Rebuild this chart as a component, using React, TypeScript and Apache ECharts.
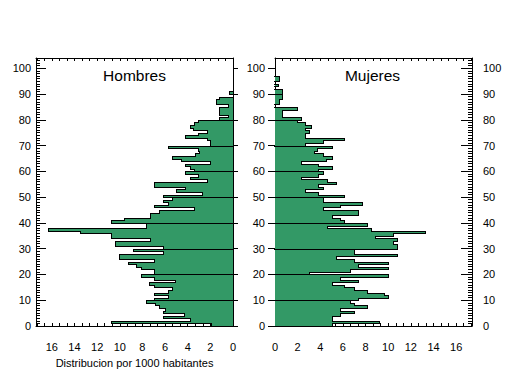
import React, { useEffect, useRef } from "react";
import * as echarts from "echarts";

// Ages 0..100 (one bar per single year of age)
const ages: number[] = Array.from({ length: 101 }, (_, i) => i);

// Distribution per 1000 inhabitants, index = age
const hombres: number[] = [
  1.9, 10.8, 3.8, 6.2, 4.3, 6.2, 6.0, 6.55, 6.9, 7.7,
  7.0, 5.75, 7.0, 5.75, 5.4, 7.0, 7.4, 5.1, 7.0, 8.1,
  7.0, 7.0, 8.1, 8.55, 9.3, 7.0, 10.1, 10.1, 6.2, 8.85,
  6.2, 10.4, 10.4, 7.3, 10.8, 10.8, 13.5, 16.3, 7.7, 7.7,
  10.8, 9.6, 7.3, 7.3, 6.55, 3.45, 7.0, 5.75, 6.2, 5.4,
  6.2, 2.7, 5.0, 4.2, 7.0, 7.0, 2.3, 3.8, 3.1, 4.2,
  3.45, 3.8, 4.2, 2.0, 4.6, 5.4, 3.4, 3.0, 3.1, 5.75,
  2.0, 2.0, 2.3, 4.2, 3.1, 2.3, 3.5, 3.8, 3.45, 3.1,
  1.2, 0.45, 1.2, 1.2, 1.2, 0.45, 1.5, 1.5, 1.2, 0,
  0.35, 0, 0, 0, 0, 0, 0, 0, 0, 0,
  0,
];

const mujeres: number[] = [
  5.1, 9.3, 5.1, 5.1, 5.8, 7.05, 5.8, 8.2, 7.05, 6.7,
  7.4, 10.1, 9.7, 8.2, 7.05, 6.2, 5.1, 7.4, 5.8, 10.1,
  3.1, 6.7, 10.1, 7.4, 10.1, 7.05, 5.5, 10.9, 7.05, 7.05,
  10.9, 10.9, 10.5, 10.9, 8.9, 10.5, 13.3, 8.6, 4.7, 8.2,
  6.2, 5.8, 5.1, 7.4, 7.4, 4.3, 5.8, 7.8, 4.3, 4.3,
  6.2, 3.85, 2.7, 4.3, 3.85, 5.5, 4.7, 2.4, 3.85, 4.3,
  3.85, 5.1, 3.85, 2.4, 4.6, 5.1, 4.3, 3.5, 3.8, 5.1,
  2.7, 4.3, 6.2, 2.7, 2.7, 3.1, 2.7, 3.3, 2.7, 2.0,
  2.4, 0.75, 0.75, 0.75, 2.0, 0, 0.4, 0.4, 0.75, 0.75,
  0.75, 0.75, 0, 0.35, 0, 0.4, 0.4, 0, 0, 0,
  0,
];

const xLabelValues: number[] = [0, 2, 4, 6, 8, 10, 12, 14, 16];
const yLabelValues: number[] = [0, 10, 20, 30, 40, 50, 60, 70, 80, 90, 100];

const X_MAX = 17.4;
const Y_MAX = 104;
const X_MINOR_STEP = 2 / 3;
const xMinorTicks: number[] = Array.from({ length: Math.floor(X_MAX / X_MINOR_STEP) + 1 }, (_, i) => i * X_MINOR_STEP);
const yMinorTicks: number[] = Array.from({ length: Y_MAX + 1 }, (_, i) => i);

const GREEN = "#339966";
const FONT = "Liberation Sans";
const BLACK = "#000";

function makeFill() {
  return (_params: any, api: any) => {
    const v = api.value(0) as number;
    const age = api.value(1) as number;
    const a = api.coord([0, age]);
    const b = api.coord([v, age + 1]);
    const x0 = Math.round(Math.min(a[0], b[0]));
    const x1 = Math.round(Math.max(a[0], b[0]));
    const y0 = Math.round(b[1]);
    const y1 = Math.round(a[1]);
    return {
      type: "rect",
      shape: { x: x0, y: y0, width: x1 - x0, height: y1 - y0 },
      style: { fill: GREEN },
      silent: true,
    };
  };
}

function makeOutline(arr: number[], leftSide: boolean) {
  return (_params: any, api: any) => {
    const v = api.value(0) as number;
    const age = api.value(1) as number;
    const above = age + 1 < arr.length ? arr[age + 1] : 0;
    const below = age > 0 ? arr[age - 1] : 0;
    const X = (w: number) => Math.round(api.coord([w, age])[0]);
    const col = (w: number) => (leftSide ? X(w) : X(w) - 1);
    const yTop = Math.round(api.coord([0, age + 1])[1]);
    const yBot = Math.round(api.coord([0, age])[1]);
    const children: any[] = [];
    const st = { fill: BLACK };
    if (v > 0) {
      children.push({ type: "rect", shape: { x: col(v), y: yTop, width: 1, height: yBot - yTop }, style: st });
    }
    if (v !== above) {
      const p = col(v), q = col(above);
      children.push({ type: "rect", shape: { x: Math.min(p, q), y: yTop, width: Math.abs(p - q) + 1, height: 1 }, style: st });
    }
    if (age % 10 === 0 && age > 0) {
      const m = Math.max(v, below);
      const p = col(0), q = col(m);
      children.push({ type: "rect", shape: { x: Math.min(p, q), y: yBot, width: Math.abs(p - q) + 1, height: 1 }, style: st });
    }
    return { type: "group", children, silent: true };
  };
}

const lineStyle = { color: BLACK, width: 1 };
const labelStyle = { fontSize: 11, color: BLACK, fontFamily: FONT };

function xAxisDef(grid: number, inverse: boolean, bottom: boolean, withName: boolean) {
  return {
    gridIndex: grid,
    type: "value",
    min: 0,
    max: X_MAX,
    inverse,
    position: bottom ? "bottom" : "top",
    axisLine: { show: true, onZero: false, lineStyle },
    axisTick: { show: true, inside: true, length: 3, customValues: xMinorTicks, lineStyle },
    axisLabel: bottom
      ? { show: true, customValues: xLabelValues, margin: 15, ...labelStyle }
      : { show: false },
    splitLine: { show: false },
    ...(withName
      ? {
          name: "Distribucion por 1000 habitantes",
          nameLocation: "middle",
          nameGap: 31,
          nameTextStyle: { fontSize: 11, color: BLACK, fontFamily: FONT },
        }
      : {}),
  };
}

function yAxisDef(grid: number, position: string, opts: any) {
  return {
    gridIndex: grid,
    type: "value",
    min: 0,
    max: Y_MAX,
    position,
    axisLine: { show: opts.line, onZero: false, lineStyle },
    axisTick: { show: true, inside: opts.inside, length: opts.tickLen, customValues: opts.ticks, lineStyle },
    axisLabel: opts.labels
      ? { show: true, customValues: yLabelValues, margin: opts.margin, ...labelStyle }
      : { show: false },
    splitLine: { show: false },
  };
}

export default function App() {
  const ref = useRef<HTMLDivElement>(null);

  useEffect(() => {
    if (!ref.current) return;
    const chart = echarts.init(ref.current, undefined, { renderer: "svg" });
    const option: any = {
      animation: false,
      backgroundColor: "#fff",
      textStyle: { fontFamily: FONT },
      grid: [
        { left: 36, top: 58, width: 197, height: 268 },
        { left: 275, top: 58, width: 197, height: 268 },
      ],
      xAxis: [
        xAxisDef(0, true, true, true),
        xAxisDef(0, true, false, false),
        xAxisDef(1, false, true, false),
        xAxisDef(1, false, false, false),
      ],
      yAxis: [
        yAxisDef(0, "left", { line: true, inside: true, tickLen: 10, ticks: yLabelValues, labels: true, margin: 5 }),
        yAxisDef(0, "left", { line: false, inside: true, tickLen: 4, ticks: yMinorTicks, labels: false }),
        yAxisDef(0, "right", { line: true, inside: false, tickLen: 5, ticks: yLabelValues, labels: false }),
        yAxisDef(1, "left", { line: true, inside: false, tickLen: 7, ticks: yLabelValues, labels: true, margin: 10 }),
        yAxisDef(1, "right", { line: true, inside: true, tickLen: 11, ticks: yLabelValues, labels: true, margin: 11 }),
        yAxisDef(1, "right", { line: false, inside: true, tickLen: 4, ticks: yMinorTicks, labels: false }),
      ],
      graphic: [
        {
          type: "text",
          x: 134.5,
          y: 75.5,
          style: { text: "Hombres", fontSize: 15.5, fontFamily: FONT, fill: BLACK, align: "center", verticalAlign: "middle" },
        },
        {
          type: "text",
          x: 372.5,
          y: 75.5,
          style: { text: "Mujeres", fontSize: 15.5, fontFamily: FONT, fill: BLACK, align: "center", verticalAlign: "middle" },
        },
      ],
      series: [
        {
          type: "custom",
          name: "Hombres",
          xAxisIndex: 0,
          yAxisIndex: 0,
          data: hombres.map((v, i) => [v, ages[i]]),
          encode: { x: 0, y: 1 },
          renderItem: makeFill(),
          z: 2,
        },
        {
          type: "custom",
          name: "Hombres contorno",
          xAxisIndex: 0,
          yAxisIndex: 0,
          data: hombres.map((v, i) => [v, ages[i]]),
          encode: { x: 0, y: 1 },
          renderItem: makeOutline(hombres, true),
          z: 3,
        },
        {
          type: "custom",
          name: "Mujeres",
          xAxisIndex: 2,
          yAxisIndex: 3,
          data: mujeres.map((v, i) => [v, ages[i]]),
          encode: { x: 0, y: 1 },
          renderItem: makeFill(),
          z: 2,
        },
        {
          type: "custom",
          name: "Mujeres contorno",
          xAxisIndex: 2,
          yAxisIndex: 3,
          data: mujeres.map((v, i) => [v, ages[i]]),
          encode: { x: 0, y: 1 },
          renderItem: makeOutline(mujeres, false),
          z: 3,
        },
      ],
    };
    chart.setOption(option);
    return () => chart.dispose();
  }, []);

  return (
    <div
      ref={ref}
      style={{ position: "fixed", left: 0, top: 0, width: 509, height: 376, background: "#fff" }}
    />
  );
}
